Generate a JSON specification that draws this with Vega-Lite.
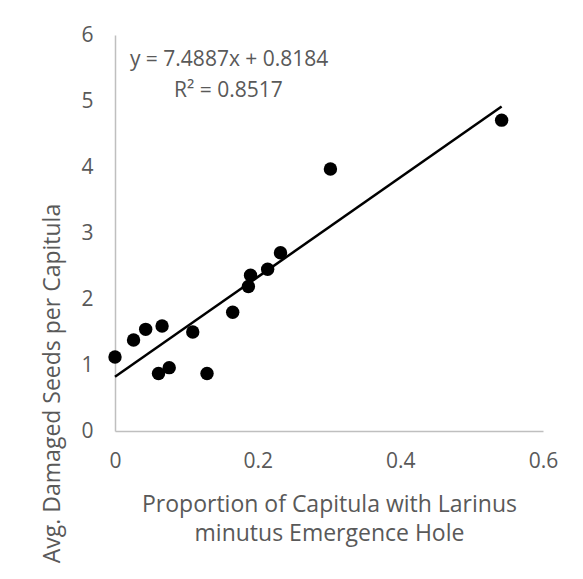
{
  "$schema": "https://vega.github.io/schema/vega-lite/v6.json",
  "width": 428,
  "height": 396,
  "autosize": {"type": "none"},
  "padding": {"left": 115, "top": 35, "right": 40, "bottom": 148},
  "background": "white",
  "config": {
    "view": {"stroke": null},
    "font": "Open Sans",
    "axis": {
      "grid": false,
      "ticks": false,
      "labelFlush": false,
      "domainColor": "#bfbfbf",
      "domainWidth": 1.5,
      "labelColor": "#595959",
      "labelFont": "Open Sans",
      "labelFontSize": 21,
      "titleColor": "#595959",
      "titleFont": "Open Sans",
      "titleFontSize": 23,
      "titleFontWeight": "normal"
    }
  },
  "layer": [
    {
      "data": {
        "values": [
          {"x": 0.0, "y": 1.12},
          {"x": 0.026, "y": 1.38},
          {"x": 0.043, "y": 1.54},
          {"x": 0.066, "y": 1.59},
          {"x": 0.061, "y": 0.87},
          {"x": 0.076, "y": 0.96},
          {"x": 0.109, "y": 1.5},
          {"x": 0.129, "y": 0.87},
          {"x": 0.165, "y": 1.8},
          {"x": 0.187, "y": 2.19},
          {"x": 0.19, "y": 2.36},
          {"x": 0.214, "y": 2.45},
          {"x": 0.232, "y": 2.7},
          {"x": 0.302, "y": 3.97},
          {"x": 0.542, "y": 4.71}
        ]
      },
      "encoding": {
        "x": {
          "field": "x",
          "type": "quantitative",
          "scale": {"domain": [0, 0.6], "nice": false, "zero": true},
          "axis": {
            "values": [0, 0.2, 0.4, 0.6],
            "format": "~g",
            "labelPadding": 19,
            "title": ["Proportion of Capitula with Larinus", "minutus Emergence Hole"],
            "titlePadding": 22,
            "titleLineHeight": 29
          }
        },
        "y": {
          "field": "y",
          "type": "quantitative",
          "scale": {"domain": [0, 6], "nice": false},
          "axis": {
            "values": [0, 1, 2, 3, 4, 5, 6],
            "format": "d",
            "labelPadding": 22,
            "title": "Avg. Damaged Seeds per Capitula",
            "titleAngle": -90,
            "titleX": -63,
            "titleY": 348,
            "titleAlign": "center",
            "titleBaseline": "middle"
          }
        }
      },
      "layer": [
        {
          "transform": [{"regression": "y", "on": "x"}],
          "mark": {"type": "line", "color": "black", "strokeWidth": 2.5}
        },
        {
          "mark": {"type": "circle", "color": "black", "opacity": 1, "size": 180}
        }
      ]
    },
    {
      "data": {"values": [{"label": "y = 7.4887x + 0.8184"}]},
      "mark": {
        "type": "text",
        "color": "#595959",
        "fontSize": 21,
        "align": "center",
        "baseline": "middle"
      },
      "encoding": {
        "x": {"datum": 0.16, "type": "quantitative"},
        "y": {"datum": 5.62, "type": "quantitative"},
        "text": {"field": "label", "type": "nominal"}
      }
    },
    {
      "data": {"values": [{"label": "R² = 0.8517"}]},
      "mark": {
        "type": "text",
        "color": "#595959",
        "fontSize": 21,
        "align": "center",
        "baseline": "middle"
      },
      "encoding": {
        "x": {"datum": 0.159, "type": "quantitative"},
        "y": {"datum": 5.15, "type": "quantitative"},
        "text": {"field": "label", "type": "nominal"}
      }
    }
  ]
}
